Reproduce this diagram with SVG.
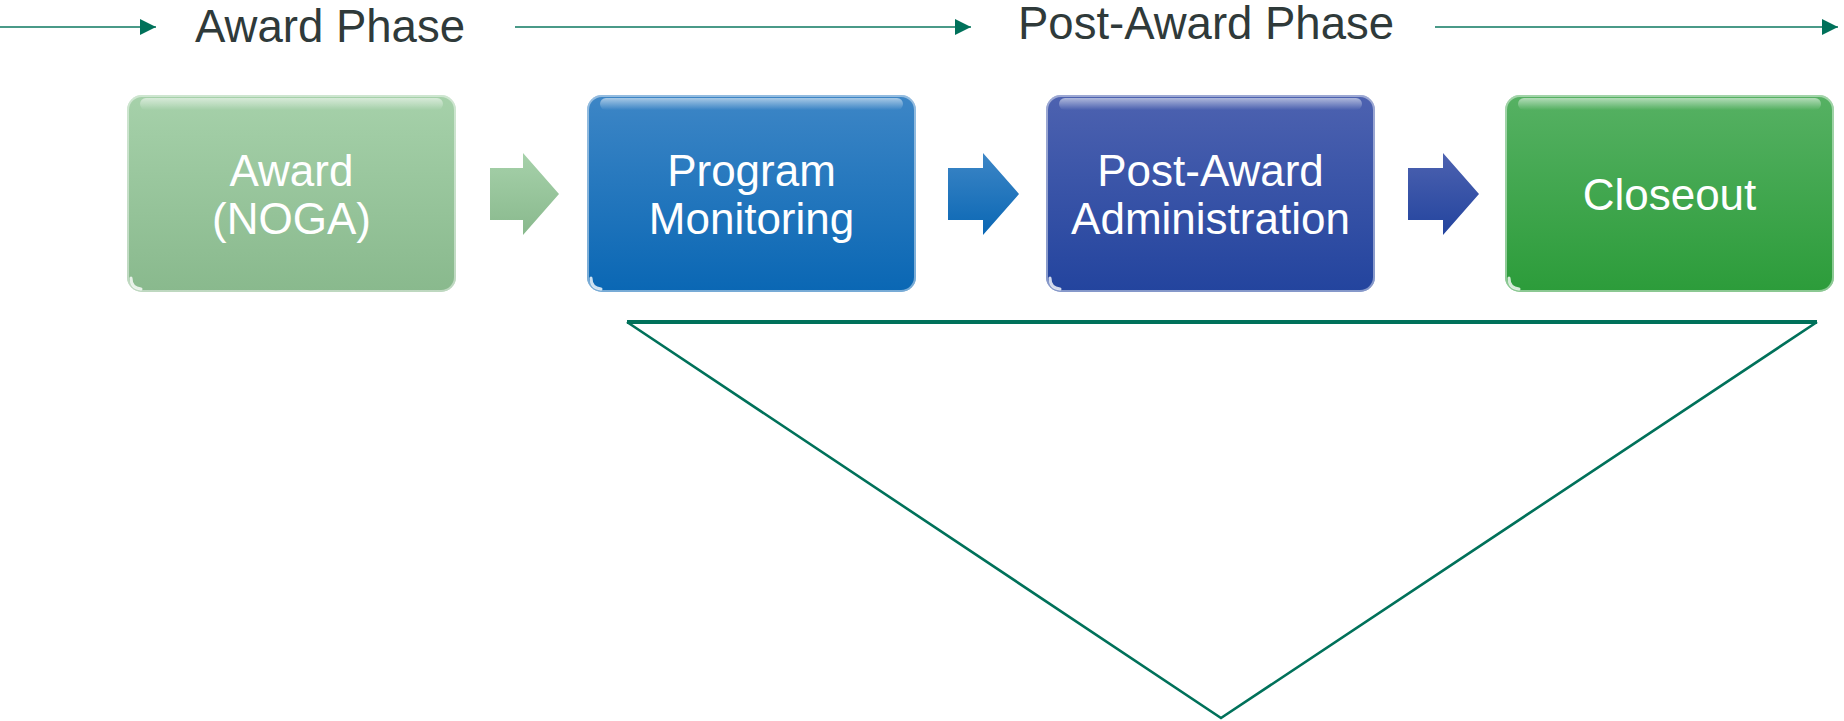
<svg xmlns="http://www.w3.org/2000/svg" width="1844" height="721" viewBox="0 0 1844 721">
  <style>
    .phase { font-family: "Liberation Sans", Arial, sans-serif; font-size: 46px; fill: #2f3a3a; }
    .label { font-family: "Liberation Sans", Arial, sans-serif; font-size: 44px; fill: #ffffff; text-anchor: middle; }
    .timeline { stroke: #4a9a88; stroke-width: 2.2; fill: none; }
    .shine { fill: url(#shine); }
    .edge { fill: none; stroke: #ffffff; stroke-opacity: 0.45; stroke-width: 2; }
    .glint { fill: none; stroke: #ffffff; stroke-opacity: 0.8; stroke-width: 3; stroke-linecap: round; }
  </style>
  <defs>
    <marker id="tip" viewBox="0 0 10 10" refX="10" refY="5" markerWidth="16" markerHeight="17" markerUnits="userSpaceOnUse" orient="auto">
      <path d="M0,0 L10,5 L0,10 Z" fill="#00715a"/>
    </marker>
    <linearGradient id="gAward" x1="0" y1="0" x2="0" y2="1">
      <stop offset="0" stop-color="#a6d1aa"/>
      <stop offset="1" stop-color="#89b98d"/>
    </linearGradient>
    <linearGradient id="gProgram" x1="0" y1="0" x2="0" y2="1">
      <stop offset="0" stop-color="#3d86c6"/>
      <stop offset="1" stop-color="#0a67b4"/>
    </linearGradient>
    <linearGradient id="gAdmin" x1="0" y1="0" x2="0" y2="1">
      <stop offset="0" stop-color="#4d62b0"/>
      <stop offset="1" stop-color="#23449e"/>
    </linearGradient>
    <linearGradient id="gClose" x1="0" y1="0" x2="0" y2="1">
      <stop offset="0" stop-color="#56b163"/>
      <stop offset="1" stop-color="#2c9c3a"/>
    </linearGradient>
    <linearGradient id="shine" x1="0" y1="0" x2="0" y2="1">
      <stop offset="0" stop-color="#ffffff" stop-opacity="0.55"/>
      <stop offset="1" stop-color="#ffffff" stop-opacity="0"/>
    </linearGradient>
  </defs>

  <!-- phase timeline -->
  <g id="timeline">
    <line class="timeline" x1="0" y1="27" x2="156" y2="27" marker-end="url(#tip)"/>
    <line class="timeline" x1="515" y1="27" x2="971" y2="27" marker-end="url(#tip)"/>
    <line class="timeline" x1="1435" y1="27" x2="1838" y2="27" marker-end="url(#tip)"/>
    <text class="phase" x="195" y="42" textLength="270" lengthAdjust="spacingAndGlyphs">Award Phase</text>
    <text class="phase" x="1018" y="39" textLength="376" lengthAdjust="spacingAndGlyphs">Post-Award Phase</text>
  </g>

  <!-- process steps -->
  <g id="award">
    <rect x="127" y="95" width="329" height="197" rx="15" fill="url(#gAward)"/>
    <rect class="edge" x="128" y="96" width="327" height="195" rx="14"/>
    <rect class="shine" x="140" y="98" width="303" height="12" rx="6"/>
    <path class="glint" d="M131,278 Q131,288 141,289"/>
    <text class="label" x="291.5" y="186">Award</text>
    <text class="label" x="291.5" y="234">(NOGA)</text>
  </g>
  <g id="program-monitoring">
    <rect x="587" y="95" width="329" height="197" rx="15" fill="url(#gProgram)"/>
    <rect class="edge" x="588" y="96" width="327" height="195" rx="14"/>
    <rect class="shine" x="600" y="98" width="303" height="12" rx="6"/>
    <path class="glint" d="M591,278 Q591,288 601,289"/>
    <text class="label" x="751.5" y="186">Program</text>
    <text class="label" x="751.5" y="234">Monitoring</text>
  </g>
  <g id="post-award-administration">
    <rect x="1046" y="95" width="329" height="197" rx="15" fill="url(#gAdmin)"/>
    <rect class="edge" x="1047" y="96" width="327" height="195" rx="14"/>
    <rect class="shine" x="1059" y="98" width="303" height="12" rx="6"/>
    <path class="glint" d="M1050,278 Q1050,288 1060,289"/>
    <text class="label" x="1210.5" y="186">Post-Award</text>
    <text class="label" x="1210.5" y="234">Administration</text>
  </g>
  <g id="closeout">
    <rect x="1505" y="95" width="329" height="197" rx="15" fill="url(#gClose)"/>
    <rect class="edge" x="1506" y="96" width="327" height="195" rx="14"/>
    <rect class="shine" x="1518" y="98" width="303" height="12" rx="6"/>
    <path class="glint" d="M1509,278 Q1509,288 1519,289"/>
    <text class="label" x="1669.5" y="210">Closeout</text>
  </g>

  <!-- step connectors -->
  <g id="connectors">
    <path d="M490,168 H523 V153 L559,194 L523,235 V220 H490 Z" fill="url(#gAward)"/>
    <path d="M948,168 H983 V153 L1019,194 L983,235 V220 H948 Z" fill="url(#gProgram)"/>
    <path d="M1408,168 H1443 V153 L1479,194 L1443,235 V220 H1408 Z" fill="url(#gAdmin)"/>
  </g>

  <!-- scope funnel under the post-award steps -->
  <g id="funnel">
    <line x1="627" y1="322" x2="1817" y2="322" stroke="#00715a" stroke-width="4"/>
    <path d="M627,322 L1221,718 L1817,322" fill="none" stroke="#00715a" stroke-width="2.6" stroke-linejoin="miter"/>
  </g>
</svg>
